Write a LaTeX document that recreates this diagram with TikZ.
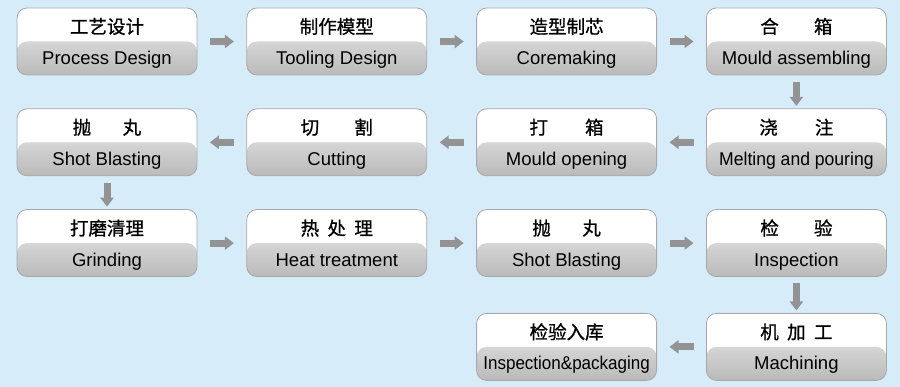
\documentclass[tikz,border=0pt]{standalone}
\usepackage{fontspec}
\setmainfont{Liberation Sans}
\newfontfamily\cjk[FakeBold=0.9]{Noto Sans CJK SC}
\usetikzlibrary{arrows.meta,positioning}
\definecolor{backdrop}{HTML}{D7ECF9}
\definecolor{stageline}{HTML}{A8A8A8}
\definecolor{shadetop}{HTML}{F0F0F0}
\definecolor{shadebot}{HTML}{BABABA}
\definecolor{flowgrey}{HTML}{939393}
\newcommand{\zh}[1]{\rule{0pt}{20pt}{\cjk #1}}
\newcommand{\en}[1]{\rule[-5pt]{0pt}{5pt}#1}

\begin{document}
\begin{tikzpicture}[
  x=1pt,y=-1pt,
  font=\fontsize{18.5}{31}\selectfont,
  stage/.style={draw=stageline,line width=0.8pt,rounded corners=10pt,align=center,inner sep=0pt,
    minimum width=180pt,minimum height=67pt,fill=white,
    path picture={\shade[top color=shadetop,bottom color=shadebot]
      (path picture bounding box.west) rectangle (path picture bounding box.south east);}},
  fl/.style={-{Triangle[length=9pt,width=13pt]},flowgrey,line width=7pt,shorten <=12.5pt,shorten >=12.5pt},
  fd/.style={fl,shorten <=6.5pt,shorten >=2.5pt},
]
\fill[backdrop] (0,0) rectangle (900,387);
\useasboundingbox (0,0) rectangle (900,387);
% row 1, left to right
\node[stage] (design) at (107,41.5) {\zh{工艺设计}\\\en{Process Design}};
\node[stage,right=49pt of design] (tooling) {\zh{制作模型}\\\en{Tooling Design}};
\node[stage,right=49pt of tooling] (coremaking) {\zh{造型制芯}\\\en{Coremaking}};
\node[stage,right=49pt of coremaking] (assembly) {\zh{合\hspace{1.9em}箱}\\\en{Mould assembling}};
% row 2, right to left
\node[stage,below=33pt of assembly] (pouring) {\zh{浇\hspace{2em}注}\\\en{\scalebox{0.95}[1]{Melting and pouring}}};
\node[stage,left=49pt of pouring] (opening) {\zh{打\hspace{2em}箱}\\\en{Mould opening}};
\node[stage,left=49pt of opening] (cutting) {\zh{切\hspace{1.9em}割}\\\en{Cutting}};
\node[stage,left=49pt of cutting] (blastA) {\zh{抛\hspace{1.7em}丸}\\\en{Shot Blasting}};
% row 3, left to right
\node[stage,below=33pt of blastA] (grinding) {\zh{打磨清理}\\\en{Grinding}};
\node[stage,right=49pt of grinding] (heat) {\zh{热\hspace{0.45em}处\hspace{0.45em}理}\\\en{Heat treatment}};
\node[stage,right=49pt of heat] (blastB) {\zh{抛\hspace{1.7em}丸}\\\en{Shot Blasting}};
\node[stage,right=49pt of blastB] (inspect) {\zh{检\hspace{1.9em}验}\\\en{Inspection}};
% row 4, right to left
\node[stage,below=36pt of inspect] (machining) {\zh{机\hspace{0.45em}加\hspace{0.45em}工}\\\en{Machining}};
\node[stage,left=49pt of machining] (packing) {\zh{检验入库}\\\en{\scalebox{0.92}[1]{Inspection\&packaging}}};
\foreach \a/\b in {design/tooling,tooling/coremaking,coremaking/assembly,
  pouring/opening,opening/cutting,cutting/blastA,
  grinding/heat,heat/blastB,blastB/inspect,machining/packing}
  \draw[fl] (\a) -- (\b);
\draw[fd] (assembly) -- (pouring);
\draw[fd] (blastA) -- (grinding);
\draw[fd] (inspect) -- (machining);
\end{tikzpicture}
\end{document}
